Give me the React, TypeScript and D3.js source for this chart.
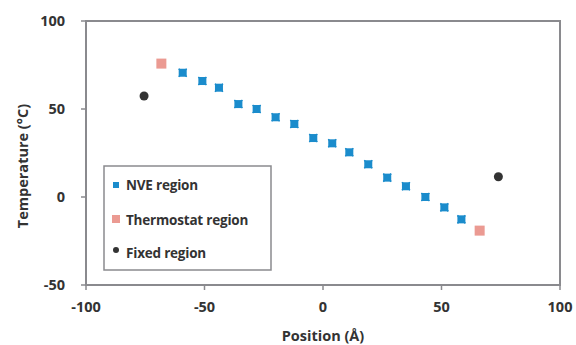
import React from "react";
import * as d3 from "d3";

const nveX = [-59.2, -50.9, -43.9, -35.7, -28.0, -20.0, -12.1, -4.1, 3.9, 11.1, 19.1, 27.1, 35.0, 43.2, 51.2, 58.4];
const nveY = [70.6, 65.9, 62.1, 52.8, 50.0, 45.3, 41.5, 33.5, 30.5, 25.4, 18.6, 11.0, 6.1, 0.0, -5.9, -12.7];
const thermoX = [-68.2, 66.1];
const thermoY = [75.8, -19.1];
const fixedX = [-75.5, 74.0];
const fixedY = [57.4, 11.5];
const xTicks = [-100, -50, 0, 50, 100];
const yTicks = [-50, 0, 50, 100];
const legendLabels = ["NVE region", "Thermostat region", "Fixed region"];

const W = 576, H = 345;
const L = 86, R = 560, T = 21, B = 285;
const font = "'Open Sans', 'Noto Sans', sans-serif";

export default function App() {
  const x = d3.scaleLinear().domain([-100, 100]).range([L, R]);
  const y = d3.scaleLinear().domain([-50, 100]).range([B, T]);
  const axisColor = "#8a8a8e";
  const textColor = "#333";
  return (
    <svg width={W} height={H} style={{ position: "absolute", left: 0, top: 0, background: "#fff" }}>
      <rect x={L} y={T} width={R - L} height={B - T} fill="none" stroke={axisColor} strokeWidth={2} />
      {yTicks.map((t) => (
        <g key={"y" + t}>
          <line x1={L - 5} x2={L} y1={y(t)} y2={y(t)} stroke={axisColor} strokeWidth={1.5} />
          <text x={L - 21} y={y(t)} dy="0.35em" textAnchor="end" fontFamily={font} fontWeight="bold" fontSize={14.5} fill={textColor}>{t}</text>
        </g>
      ))}
      {xTicks.map((t) => (
        <g key={"x" + t}>
          <line x1={x(t)} x2={x(t)} y1={B} y2={B + 5} stroke={axisColor} strokeWidth={1.5} />
          <text x={x(t)} y={B + 27} textAnchor="middle" fontFamily={font} fontWeight="bold" fontSize={14.5} fill={textColor}>{t}</text>
        </g>
      ))}
      <text x={(L + R) / 2} y={H - 4} textAnchor="middle" fontFamily={font} fontWeight="bold" fontSize={14.5} fill={textColor}>Position (Å)</text>
      <text transform={`translate(28,166) rotate(-90)`} textAnchor="middle" fontFamily={font} fontWeight="bold" fontSize={14.5} fill={textColor}>Temperature (°C)</text>
      {nveX.map((v, i) => (
        <g key={"n" + i} transform={`translate(${x(v)},${y(nveY[i])})`}>
          <rect x={-4} y={-4} width={8} height={8} fill="#1b8ccc" />
          <path d="M-4,-4L4,4M4,-4L-4,4" stroke="#1b8ccc" strokeWidth={1.5} />
        </g>
      ))}
      {thermoX.map((v, i) => (
        <rect key={"t" + i} x={x(v) - 5} y={y(thermoY[i]) - 5} width={10} height={10} fill="#eb9a92" />
      ))}
      {fixedX.map((v, i) => (
        <circle key={"f" + i} cx={x(v)} cy={y(fixedY[i])} r={4.5} fill="#333" />
      ))}
      <g>
        <rect x={104} y={166} width={167} height={104} fill="#fff" stroke={axisColor} strokeWidth={1.5} />
        <rect x={113} y={182} width={6} height={6} fill="#1b8ccc" />
        <rect x={112} y={215} width={8} height={8} fill="#eb9a92" />
        <circle cx={116} cy={250} r={3} fill="#333" />
        {legendLabels.map((lab, i) => (
          <text key={lab} x={126} y={[185, 220, 253][i]} dy="0.35em" fontFamily={font} fontWeight="bold" fontSize={13.5} fill={textColor} letterSpacing={-0.2}>{lab}</text>
        ))}
      </g>
    </svg>
  );
}
